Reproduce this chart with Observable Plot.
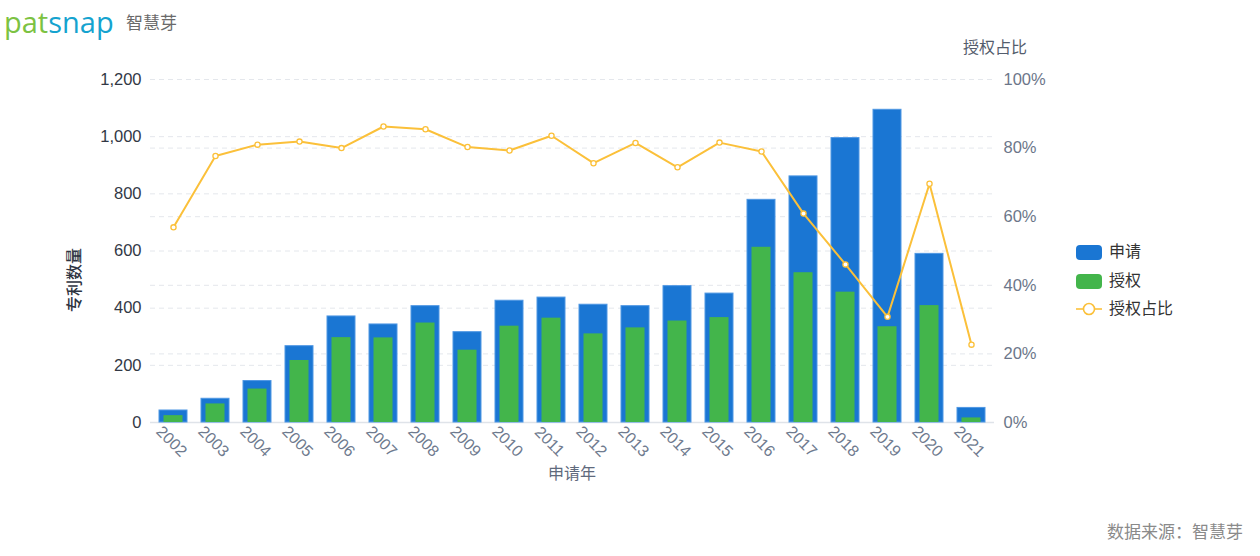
<!DOCTYPE html>
<html>
<head>
<meta charset="utf-8">
<script src="https://cdn.jsdelivr.net/npm/d3@7"></script>
<script src="https://cdn.jsdelivr.net/npm/@observablehq/plot@0.6"></script>
<style>
  body { margin: 0; background: #fff; }
  #wrap { position: relative; width: 1260px; height: 556px; font-family: "Liberation Sans", "Noto Sans CJK SC", sans-serif; }
  #wrap svg { position: absolute; left: 0; top: 0; }
  .ov { position: absolute; white-space: nowrap; }
</style>
</head>
<body>
<div id="wrap"></div>
<script>
const years = ["2002","2003","2004","2005","2006","2007","2008","2009","2010","2011","2012","2013","2014","2015","2016","2017","2018","2019","2020","2021"];
const applied = [42, 83, 145, 267, 371, 343, 407, 316, 426, 437, 412, 407, 477, 451, 779, 861, 995, 1094, 590, 51];
const granted = [24, 65, 117, 217, 297, 296, 348, 253, 337, 365, 310, 331, 355, 367, 613, 524, 456, 335, 409, 16];
const ratioPct = [56.9, 77.7, 81.0, 81.9, 80.0, 86.3, 85.5, 80.3, 79.3, 83.6, 75.6, 81.5, 74.4, 81.6, 79.0, 60.9, 46.1, 30.8, 69.6, 22.7];
const leftTicks = [0, 200, 400, 600, 800, 1000, 1200];
const rightTicksPct = [0, 20, 40, 60, 80, 100];

const seriesNames = ["申请", "授权", "授权占比"];
const colors = {apply: "#1a76d3", grant: "#43b54b", ratio: "#fbc03a"};

const PCT_TO_COUNT = 1200 / 100;
const rows = years.map((y, i) => ({year: y, applied: applied[i], granted: granted[i], ratio: ratioPct[i] * PCT_TO_COUNT}));

const font = '"Liberation Sans", "Noto Sans CJK SC", sans-serif';

const chart = Plot.plot({
  width: 1260,
  height: 556,
  marginLeft: 150,
  marginRight: 266,
  marginTop: 79,
  marginBottom: 134,
  style: {fontFamily: font, fontSize: "16px", background: "transparent", overflow: "visible"},
  x: {domain: years, paddingInner: 0.335, paddingOuter: 0.1675, axis: null},
  y: {domain: [0, 1200], axis: null},
  marks: [
    Plot.gridY(leftTicks.filter(d => d > 0), {stroke: "#e4e7ec", strokeOpacity: 1, strokeDasharray: "5,4"}),
    Plot.gridY(rightTicksPct.filter(d => d > 0).map(d => d * PCT_TO_COUNT), {stroke: "#e4e7ec", strokeOpacity: 1, strokeDasharray: "5,4"}),
    Plot.ruleY([0], {stroke: "#dfe3e9", strokeWidth: 1.5}),
    Plot.barY(rows, {x: "year", y: "applied", fill: colors.apply, stroke: "#4f97e3", strokeWidth: 1}),
    Plot.barY(rows, {x: "year", y: "granted", fill: colors.grant, insetLeft: 4.5, insetRight: 4.5}),
    Plot.line(rows, {x: "year", y: "ratio", stroke: colors.ratio, strokeWidth: 2}),
    Plot.dot(rows, {x: "year", y: "ratio", r: 2.6, fill: "white", stroke: colors.ratio, strokeWidth: 1.3}),
    Plot.axisY({anchor: "left", ticks: leftTicks, tickSize: 0, tickPadding: 9, tickFormat: d3.format(","), label: null, color: "#323845", fontSize: 16.5}),
    Plot.axisY({anchor: "right", ticks: rightTicksPct.map(d => d * PCT_TO_COUNT), tickSize: 0, tickPadding: 9, tickFormat: d => Math.round(d / PCT_TO_COUNT) + "%", label: null, color: "#6c7689", fontSize: 16.5}),
    Plot.axisX({anchor: "bottom", tickSize: 0, tickPadding: 19, tickRotate: 45, textAnchor: "middle", lineAnchor: "middle", dx: -2, label: null, color: "#6e7a8e", fontSize: 16})
  ]
});

const wrap = document.getElementById("wrap");
wrap.appendChild(chart);

function ov(html, css) {
  const d = document.createElement("div");
  d.className = "ov";
  d.innerHTML = html;
  Object.assign(d.style, css);
  wrap.appendChild(d);
  return d;
}

// Logo
ov('<span style="color:#7cc242">pat</span><span style="color:#15a3cf">snap</span>', {left: "4px", top: "4px", fontSize: "29px", fontFamily: '"Open Sans", "Liberation Sans", sans-serif', letterSpacing: "0px", lineHeight: "36px"});
ov("智慧芽", {left: "126px", top: "12px", fontSize: "17px", color: "#6a6a6a", lineHeight: "24px"});

// Axis titles
ov("专利数量", {left: "75px", top: "280px", fontSize: "16px", fontWeight: "500", color: "#2e3441", transform: "translate(-50%,-50%) rotate(-90deg)", lineHeight: "20px"});
ov("申请年", {left: "572px", top: "474px", fontSize: "16px", color: "#5f6a7d", transform: "translate(-50%,-50%)", lineHeight: "20px"});
ov("授权占比", {left: "995px", top: "48px", fontSize: "16px", color: "#545d6d", transform: "translate(-50%,-50%)", lineHeight: "20px"});

// Legend
const legendTop = [252, 281, 309];
ov(`<div style="width:26px;height:15px;border-radius:4px;background:${colors.apply}"></div>`, {left: "1076px", top: (legendTop[0] - 7.5) + "px"});
ov(`<div style="width:26px;height:15px;border-radius:4px;background:${colors.grant}"></div>`, {left: "1076px", top: (legendTop[1] - 7.5) + "px"});
ov(`<svg width="28" height="14"><line x1="1" y1="7" x2="27" y2="7" stroke="${colors.ratio}" stroke-width="1.6"/><circle cx="14" cy="7" r="5.5" fill="white" stroke="${colors.ratio}" stroke-width="1.6"/></svg>`, {left: "1075px", top: (legendTop[2] - 7) + "px", lineHeight: "0"});
seriesNames.forEach((n, i) => {
  ov(n, {left: "1109px", top: legendTop[i] + "px", fontSize: "16px", color: "#333", transform: "translateY(-50%)", lineHeight: "20px"});
});

// Source caption
ov("数据来源：智慧芽", {left: "1107px", top: "533px", fontSize: "17px", color: "#8a8a8a", transform: "translateY(-50%)", lineHeight: "22px"});
</script>
</body>
</html>
